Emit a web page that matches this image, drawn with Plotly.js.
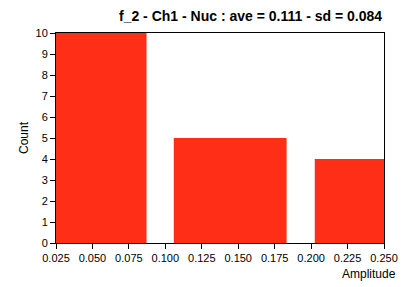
<!DOCTYPE html>
<html><head><meta charset="utf-8">
<script src="https://cdn.plot.ly/plotly-3.0.1.min.js"></script>
<style>html,body{margin:0;padding:0;background:#fff}#c{width:408px;height:287px}</style>
</head><body><div id="c"></div>
<script>
const binLeft = [0.025, 0.1058, 0.2025];
const binRight = [0.0871, 0.1832, 0.250];
const counts = [10, 5, 4];
const xTicks = [0.025,0.050,0.075,0.100,0.125,0.150,0.175,0.200,0.225,0.250];
const yTicks = [0,1,2,3,4,5,6,7,8,9,10];
const titleText = "f_2 - Ch1 - Nuc : ave = 0.111 - sd = 0.084";

const centers = binLeft.map((l,i)=>(l+binRight[i])/2);
const widths = binLeft.map((l,i)=>binRight[i]-l);
const font = "Liberation Sans, Arial, sans-serif";
Plotly.newPlot('c', [{
  type:'bar', x:centers, y:counts, width:widths,
  marker:{color:'rgb(255,47,23)', line:{width:0}}, hoverinfo:'none'
}], {
  width:408, height:287,
  margin:{l:56, r:24, t:33, b:44},
  paper_bgcolor:'#fff', plot_bgcolor:'#fff',
  showlegend:false,
  font:{family:font, size:11, color:'#000'},
  xaxis:{range:[0.025,0.250], tickvals:xTicks, ticktext:xTicks.map(v=>v.toFixed(3)),
    showgrid:false, zeroline:false, showline:true, mirror:true, linecolor:'#000', linewidth:1,
    ticks:'outside', ticklen:5, tickcolor:'#000', tickfont:{size:11}},
  yaxis:{range:[0,10], tickvals:yTicks, showgrid:false, zeroline:false, showline:true, mirror:true,
    linecolor:'#000', linewidth:1, ticks:'outside', ticklen:5, tickcolor:'#000', tickfont:{size:11},
    title:{text:'Count', font:{size:12}, standoff:4}},
  annotations:[
    {text:'<b>'+titleText+'</b>', xref:'paper', yref:'paper', x:1, y:1, xanchor:'right', yanchor:'bottom',
     yshift:7, showarrow:false, font:{size:14}},
    {text:'Amplitude', xref:'paper', yref:'paper', x:1, y:0, xanchor:'right', yanchor:'top',
     xshift:14, yshift:-22, showarrow:false, font:{size:12}}
  ]
}, {staticPlot:true});
</script></body></html>
